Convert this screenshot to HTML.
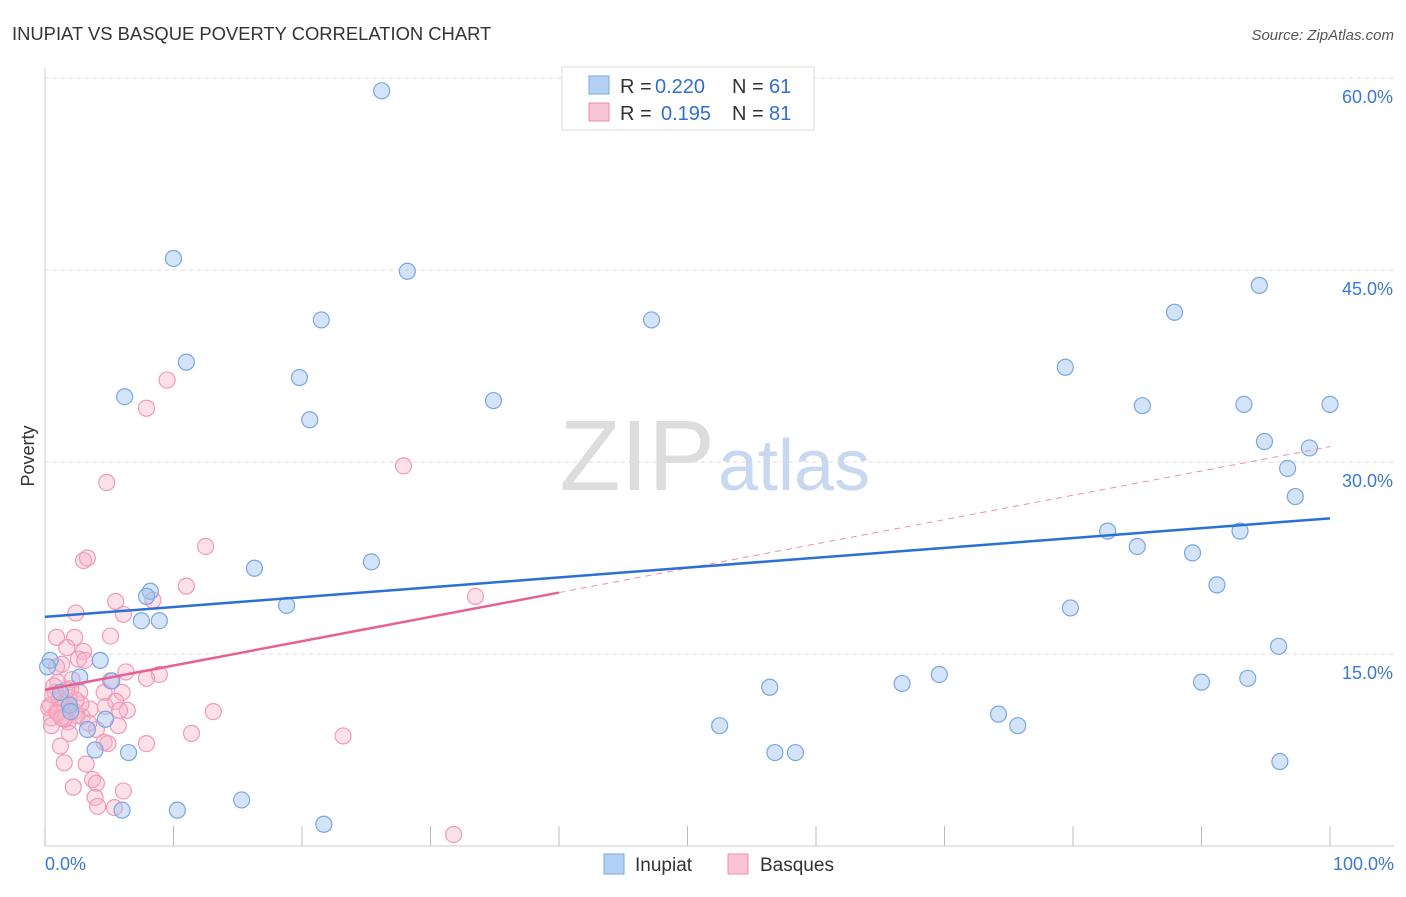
<!DOCTYPE html>
<html><head><meta charset="utf-8">
<style>
body{margin:0;background:#fff;font-family:"Liberation Sans",sans-serif;}
svg text{font-family:"Liberation Sans",sans-serif;}
</style></head>
<body>
<svg id="chart" width="1406" height="892" xmlns="http://www.w3.org/2000/svg">
<text x="12" y="40" font-size="18.4" fill="#333">INUPIAT VS BASQUE POVERTY CORRELATION CHART</text>
<text x="1394" y="40" font-size="15" fill="#555" font-style="italic" text-anchor="end">Source: ZipAtlas.com</text>
<text x="715" y="490" font-size="100" fill="#ddd" font-family="Liberation Serif" text-anchor="end">ZIP</text>
<text x="718" y="490" font-size="72" fill="#c8d8f0">atlas</text>
<g id="grid"></g>
<g id="axes"></g>
<g id="pts"></g>
<g id="lines"></g>
<text x="34" y="456" font-size="18" fill="#333" transform="rotate(-90 34 456)" text-anchor="middle">Poverty</text>
<g>
<rect x="562" y="67" width="252" height="63" fill="#fff" stroke="#ddd"/>
<rect x="589" y="76" width="20" height="18" fill="#b4d0f4" stroke="#7aa6e0"/>
<rect x="589" y="103" width="20" height="18" fill="#f9c4d4" stroke="#f08caf"/>
<text x="620" y="93" font-size="20" fill="#333">R =</text>
<text x="655" y="93" font-size="20" fill="#2f6fd0">0.220</text>
<text x="732" y="93" font-size="20" fill="#333">N =</text>
<text x="769" y="93" font-size="20" fill="#2f6fd0">61</text>
<text x="620" y="120" font-size="20" fill="#333">R =</text>
<text x="661" y="120" font-size="20" fill="#2f6fd0">0.195</text>
<text x="732" y="120" font-size="20" fill="#333">N =</text>
<text x="769" y="120" font-size="20" fill="#2f6fd0">81</text>
</g>
<g>
<rect x="604" y="854" width="20" height="20" fill="#b4d0f4" stroke="#7aa6e0"/>
<text x="635" y="871" font-size="19" fill="#333">Inupiat</text>
<rect x="728" y="854" width="20" height="20" fill="#f9c4d4" stroke="#f08caf"/>
<text x="760" y="871" font-size="19" fill="#333">Basques</text>
</g>
</svg>
<script>
const yTicks=[15,30,45,60];
const yTickLabels=["15.0%","30.0%","45.0%","60.0%"];
const xTickVals=[0,10,20,30,40,50,60,70,80,90,100];
const inupiatX=[26.2,10.0,28.2,21.5,47.2,11.0,19.8,6.2,34.9,20.6,94.5,87.9,79.4,85.4,93.3,100,94.9,98.4,96.7,97.3,82.7,85.0,93.0,89.3,91.2,79.8,96.0,16.3,25.4,18.8,8.2,7.9,7.5,8.9,4.3,2.7,5.2,0.4,4.7,3.3,3.9,6.5,6.0,10.3,15.3,21.7,56.4,52.5,56.8,58.4,66.7,69.6,74.2,75.7,90.0,93.6,96.1,1.9,0.2,2.0,1.2];
const inupiatY=[59.0,45.9,44.9,41.1,41.1,37.8,36.6,35.1,34.8,33.3,43.8,41.7,37.4,34.4,34.5,34.5,31.6,31.1,29.5,27.3,24.6,23.4,24.6,22.9,20.4,18.6,15.6,21.7,22.2,18.8,19.9,19.5,17.6,17.6,14.5,13.2,12.9,14.5,9.9,9.1,7.5,7.3,2.8,2.8,3.6,1.7,12.4,9.4,7.3,7.3,12.7,13.4,10.3,9.4,12.8,13.1,6.6,11.0,14.0,10.5,12.0];
const basqueX=[9.5,7.9,27.9,4.8,12.5,3.0,3.3,11.0,33.5,5.5,8.4,2.4,6.1,5.1,0.9,2.3,1.7,3.0,2.6,3.1,1.3,6.3,8.9,7.9,5.1,1.0,4.6,6.0,2.7,0.8,1.9,5.5,0.4,1.6,4.7,6.4,5.8,13.1,0.9,2.3,1.6,2.9,0.5,1.8,5.7,0.5,4.0,11.4,23.2,1.9,4.6,4.9,7.9,1.2,3.2,1.5,3.7,4.0,2.2,6.1,3.9,4.1,5.4,31.8,1.4,2.0,0.3,1.1,2.5,3.5,0.7,1.5,2.8,1.0,2.1,0.6,1.3,3.4,2.4,1.7,0.9];
const basqueY=[36.4,34.2,29.7,28.4,23.4,22.3,22.5,20.3,19.5,19.1,19.2,18.2,18.1,16.4,16.3,16.3,15.5,15.2,14.6,14.5,14.2,13.6,13.4,13.1,12.9,12.8,12.0,12.0,12.0,12.0,11.6,11.3,11.0,10.9,10.9,10.6,10.6,10.5,10.5,10.5,10.1,10.1,10.0,9.7,9.4,9.4,9.1,8.8,8.6,8.8,8.1,8.0,8.0,7.8,6.4,6.5,5.2,4.9,4.6,4.3,3.8,3.1,3.0,0.9,11.2,12.3,10.8,11.5,10.2,10.7,12.5,9.9,11.1,10.4,13.0,11.8,10.0,9.6,11.4,12.2,14.0];
const blueLine=[17.9,25.6];
const pinkLine=[12.2,31.2];
const pinkSolidEnd=40;
const X=v=>45+v*12.85, Y=v=>846-v*12.8;
const NS='http://www.w3.org/2000/svg';
function mk(t,a,p){const e=document.createElementNS(NS,t);for(const k in a)e.setAttribute(k,a[k]);p.appendChild(e);return e;}
const grid=document.getElementById('grid'),axes=document.getElementById('axes'),pts=document.getElementById('pts'),lines=document.getElementById('lines');
yTicks.forEach((t,i)=>{
 const l=mk('line',{x1:45,x2:1394,y1:Y(t),y2:Y(t),stroke:'#ddd','stroke-dasharray':'4,4'},grid);
 
 
 const tx=mk('text',{x:1393,y:Y(t)+25,'font-size':18,fill:'#3a78d4','text-anchor':'end'},axes);
 tx.textContent=yTickLabels[i];
 
 
});
const tg=mk('line',{x1:45,x2:1394,y1:78,y2:78,stroke:'#ddd','stroke-dasharray':'4,4'},grid);


const ya=mk('line',{x1:45,x2:45,y1:68,y2:846,stroke:'#ccc'},axes);


const xa=mk('line',{x1:45,x2:1394,y1:846,y2:846,stroke:'#ccc'},axes);


xTickVals.forEach(v=>{
 const l=mk('line',{x1:X(v),x2:X(v),y1:826,y2:846,stroke:'#bbb'},axes);
 
 
});
[[0,'0.0%','start',45],[100,'100.0%','end',1394]].forEach(d=>{
 const t=mk('text',{x:d[3],y:870,'font-size':18,fill:'#3a78d4','text-anchor':d[2]},axes);
 t.textContent=d[1];
 
 
});
basqueX.forEach((x,i)=>{
 const c=mk('circle',{cx:X(x),cy:Y(basqueY[i]),r:8,fill:'rgba(248,180,200,0.4)',stroke:'#f09ab8','stroke-width':1.2},pts);
 
 
});
inupiatX.forEach((x,i)=>{
 const c=mk('circle',{cx:X(x),cy:Y(inupiatY[i]),r:8,fill:'rgba(160,196,240,0.45)',stroke:'#7aa6e0','stroke-width':1.2},pts);
 
 
});
const pv=x=>pinkLine[0]+(pinkLine[1]-pinkLine[0])*x/100;
const pd=mk('line',{x1:X(pinkSolidEnd),y1:Y(pv(pinkSolidEnd)),x2:X(100),y2:Y(pinkLine[1]),stroke:'#f08caf','stroke-width':1,'stroke-dasharray':'6,5'},lines);


const ps=mk('line',{x1:X(0),y1:Y(pinkLine[0]),x2:X(pinkSolidEnd),y2:Y(pv(pinkSolidEnd)),stroke:'#e8608e','stroke-width':2.5},lines);


const bl=mk('line',{x1:X(0),y1:Y(blueLine[0]),x2:X(100),y2:Y(blueLine[1]),stroke:'#2a70d6','stroke-width':2.5},lines);


</script>
</body></html>
